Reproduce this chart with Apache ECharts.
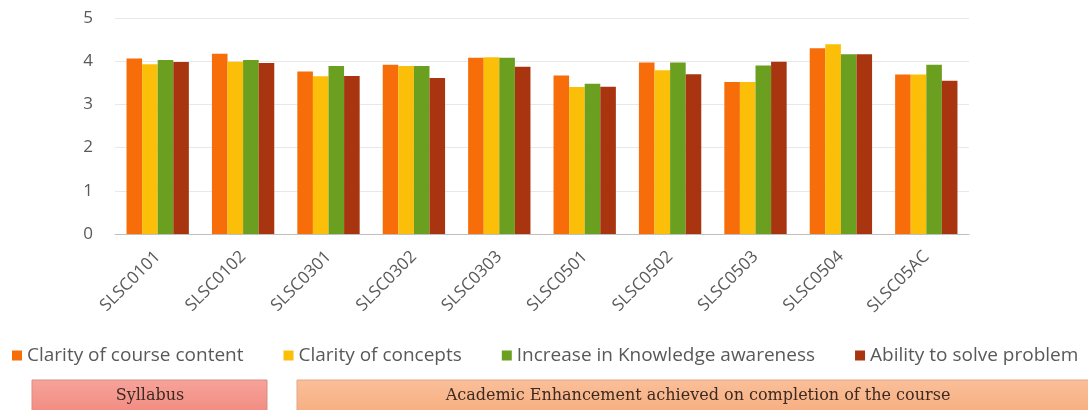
<!DOCTYPE html>
<html><head><meta charset="utf-8">
<script src="https://cdn.jsdelivr.net/npm/echarts@6/dist/echarts.min.js"></script>
<style>html,body{margin:0;padding:0;background:#fff}#c{width:1088px;height:410px}</style>
</head><body><div id="c"></div>
<script>
var categories = ['SLSC0101','SLSC0102','SLSC0301','SLSC0302','SLSC0303','SLSC0501','SLSC0502','SLSC0503','SLSC0504','SLSC05AC'];
var seriesNames = ['Clarity of course content','Clarity of concepts','Increase in Knowledge awareness','Ability to solve problem'];
var clarityContent   = [4.06, 4.17, 3.76, 3.92, 4.08, 3.67, 3.97, 3.52, 4.30, 3.69];
var clarityConcepts  = [3.93, 3.99, 3.65, 3.89, 4.09, 3.40, 3.79, 3.52, 4.39, 3.69];
var knowledge        = [4.03, 4.03, 3.89, 3.89, 4.08, 3.48, 3.97, 3.90, 4.16, 3.92];
var solveProblem     = [3.98, 3.96, 3.66, 3.61, 3.87, 3.41, 3.70, 3.99, 4.16, 3.55];
var yTicks = [0, 1, 2, 3, 4, 5];
var footerLabels = ['Syllabus', 'Academic Enhancement achieved on completion of the course'];

var colors = ['#f66d0a', '#fbbf0a', '#6a9f20', '#a83410'];
var values = [clarityContent, clarityConcepts, knowledge, solveProblem];

var chart = echarts.init(document.getElementById('c'));
var series = seriesNames.map(function (n, i) {
  return {
    name: n, type: 'bar', data: values[i],
    barGap: '0%', barCategoryGap: '27%',
    itemStyle: { color: colors[i] }
  };
});
chart.setOption({
  animation: false,
  color: colors,
  textStyle: { fontFamily: 'Open Sans' },
  grid: { left: 115, right: 119, top: 18, bottom: 176, containLabel: false },
  legend: {
    data: seriesNames, left: 12, top: 346, width: 1076, padding: 0, icon: 'rect',
    itemWidth: 10, itemHeight: 10, itemGap: 40,
    textStyle: { color: '#595959', fontSize: 19, fontFamily: 'Open Sans' }
  },
  xAxis: {
    type: 'category', data: categories,
    axisLine: { lineStyle: { color: '#bfbfbf' } },
    axisTick: { show: false },
    axisLabel: { rotate: 45, margin: 20, color: '#595959', fontSize: 17, fontFamily: 'Open Sans' }
  },
  yAxis: {
    type: 'value', min: yTicks[0], max: yTicks[yTicks.length - 1], interval: 1,
    axisLine: { show: false }, axisTick: { show: false },
    axisLabel: { margin: 22, color: '#595959', fontSize: 17, fontFamily: 'Open Sans' },
    splitLine: { lineStyle: { color: '#e8e8e8' } }
  },
  series: series,
  graphic: [
    { type: 'rect', shape: { x: 32, y: 380, width: 235, height: 34 },
      style: { fill: new echarts.graphic.LinearGradient(0, 0, 0, 1, [{ offset: 0, color: '#f6a39a' }, { offset: 1, color: '#f28a80' }]), stroke: '#d98c84', lineWidth: 1 } },
    { type: 'text', x: 150, y: 396, style: { text: footerLabels[0], align: 'center', verticalAlign: 'middle', fill: '#3b2a22', font: '16px "DejaVu Serif"' } },
    { type: 'rect', shape: { x: 297, y: 380, width: 800, height: 34 },
      style: { fill: new echarts.graphic.LinearGradient(0, 0, 0, 1, [{ offset: 0, color: '#fabf98' }, { offset: 1, color: '#f7ad80' }]), stroke: '#e0a986', lineWidth: 1 } },
    { type: 'text', x: 698, y: 396, style: { text: footerLabels[1], align: 'center', verticalAlign: 'middle', fill: '#3b2a22', font: '16px "DejaVu Serif"' } }
  ]
});
</script></body></html>
